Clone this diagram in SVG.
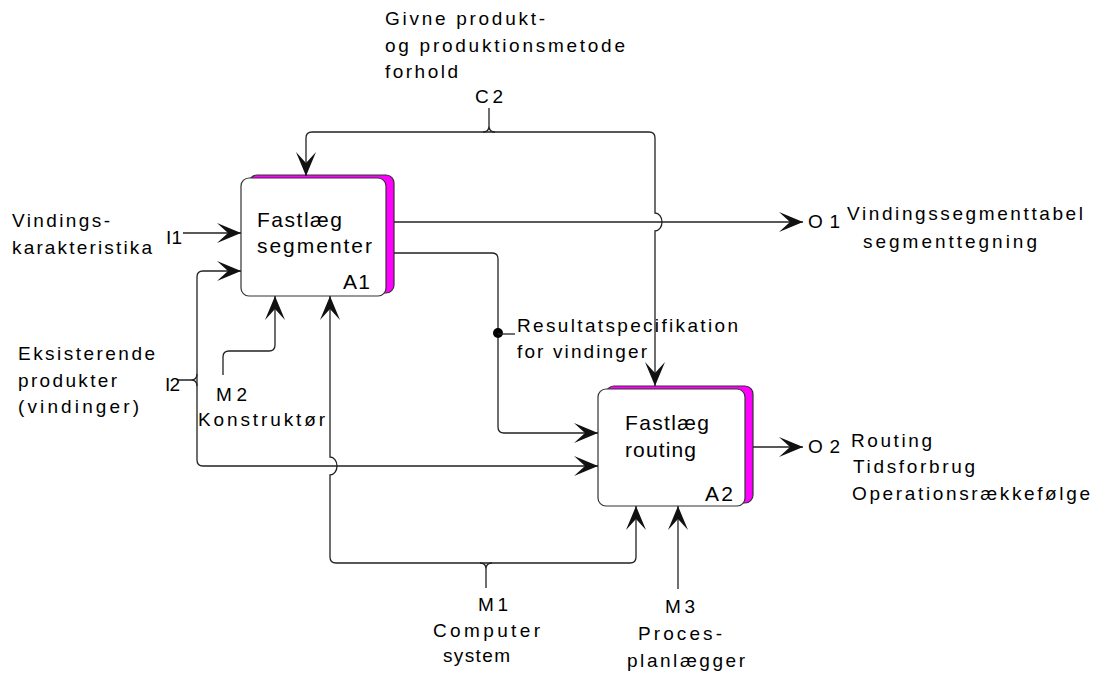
<svg xmlns="http://www.w3.org/2000/svg" width="1095" height="673" viewBox="0 0 1095 673">
<style>
  .ln{fill:none;stroke:#222;stroke-width:1.3}
  .t{font-family:"Liberation Sans",Arial,sans-serif;font-size:19px;fill:#000}
  .bt{font-family:"Liberation Sans",Arial,sans-serif;font-size:21px;fill:#000}
  .box{fill:#fff;stroke:#333;stroke-width:1.2}
  .sh{fill:#ff00ff;stroke:#333;stroke-width:1.2}
</style>
<defs>
  <marker id="ah" viewBox="0 0 24 20" refX="24" refY="10" markerWidth="24" markerHeight="20" markerUnits="userSpaceOnUse" orient="auto">
    <path d="M24,10 L0,0 L11,10 L0,20 Z" fill="#111"/>
  </marker>
</defs>
<rect width="1095" height="673" fill="#fff"/>

<g id="A1">
  <rect class="sh" x="249" y="175" width="145" height="118" rx="8"/>
  <rect class="box" x="241" y="178" width="145" height="118" rx="8"/>
  <text class="bt" x="257" y="227" textLength="85" lengthAdjust="spacing">Fastlæg</text>
  <text class="bt" x="257" y="253" textLength="115" lengthAdjust="spacing">segmenter</text>
  <text class="bt" x="343" y="289" textLength="27" lengthAdjust="spacing">A1</text>
</g>

<g id="A2">
  <rect class="sh" x="606" y="386" width="147" height="117" rx="8"/>
  <rect class="box" x="598" y="389" width="147" height="117" rx="8"/>
  <text class="bt" x="625" y="430" textLength="84" lengthAdjust="spacing">Fastlæg</text>
  <text class="bt" x="625" y="457" textLength="71" lengthAdjust="spacing">routing</text>
  <text class="bt" x="705" y="501" textLength="28" lengthAdjust="spacing">A2</text>
</g>

<g id="connectors">
  <path class="ln" d="M489,108 V126 Q489,132 483,132 M489,126 Q489,132 495,132"/>
  <path class="ln" d="M489,132 H312 Q306,132 306,138 V176" marker-end="url(#ah)"/>
  <path class="ln" d="M489,132 H649 Q655,132 655,138 V213 A7,9 0 0 1 655,231 V386" marker-end="url(#ah)"/>
  <path class="ln" d="M183,233 H241" marker-end="url(#ah)"/>
  <path class="ln" d="M178,380 H191 Q197,380 197,374 M191,380 Q197,380 197,386"/>
  <path class="ln" d="M197,380 V277 Q197,271 203,271 H241" marker-end="url(#ah)"/>
  <path class="ln" d="M197,380 V460 Q197,466 203,466 H598" marker-end="url(#ah)"/>
  <path class="ln" d="M394,253 H492 Q498,253 498,259 V427 Q498,433 504,433 H598" marker-end="url(#ah)"/>
  <circle cx="498" cy="333" r="5" fill="#000"/>
  <path class="ln" d="M498,334 H515"/>
  <path class="ln" d="M223,375 V357 Q223,351 229,351 H269 Q275,351 275,345 V296" marker-end="url(#ah)"/>
  <path class="ln" d="M486,588 V569 Q486,563 480,563 M486,569 Q486,563 492,563"/>
  <path class="ln" d="M486,563 H336 Q330,563 330,557 V475 A7,9 0 0 0 330,457 V296" marker-end="url(#ah)"/>
  <path class="ln" d="M486,563 H630 Q636,563 636,557 V506" marker-end="url(#ah)"/>
  <path class="ln" d="M678,589 V506" marker-end="url(#ah)"/>
  <path class="ln" d="M394,222 H803" marker-end="url(#ah)"/>
  <path class="ln" d="M753,447 H803" marker-end="url(#ah)"/>
</g>

<g id="labels">
  <text class="t" x="385" y="25" textLength="160" lengthAdjust="spacing">Givne produkt-</text>
  <text class="t" x="385" y="52" textLength="240" lengthAdjust="spacing">og produktionsmetode</text>
  <text class="t" x="385" y="78" textLength="73" lengthAdjust="spacing">forhold</text>
  <text class="t" x="475" y="103" textLength="28" lengthAdjust="spacing">C2</text>

  <text class="t" x="12" y="227" textLength="98" lengthAdjust="spacing">Vindings-</text>
  <text class="t" x="12" y="254" textLength="140" lengthAdjust="spacing">karakteristika</text>
  <text class="t" x="166" y="244" textLength="16" lengthAdjust="spacing">I1</text>

  <text class="t" x="18" y="360" textLength="137" lengthAdjust="spacing">Eksisterende</text>
  <text class="t" x="18" y="387" textLength="99" lengthAdjust="spacing">produkter</text>
  <text class="t" x="18" y="413" textLength="121" lengthAdjust="spacing">(vindinger)</text>
  <text class="t" x="165" y="391" textLength="15" lengthAdjust="spacing">I2</text>

  <text class="t" x="216" y="401" textLength="31" lengthAdjust="spacing">M2</text>
  <text class="t" x="198" y="426" textLength="127" lengthAdjust="spacing">Konstruktør</text>

  <text class="t" x="517" y="332" textLength="221" lengthAdjust="spacing">Resultatspecifikation</text>
  <text class="t" x="517" y="358" textLength="130" lengthAdjust="spacing">for vindinger</text>

  <text class="t" x="808" y="228" textLength="32" lengthAdjust="spacing">O1</text>
  <text class="t" x="847" y="220" textLength="236" lengthAdjust="spacing">Vindingssegmenttabel</text>
  <text class="t" x="863" y="248" textLength="174" lengthAdjust="spacing">segmenttegning</text>

  <text class="t" x="808" y="453" textLength="32" lengthAdjust="spacing">O2</text>
  <text class="t" x="851" y="447" textLength="81" lengthAdjust="spacing">Routing</text>
  <text class="t" x="853" y="473" textLength="122" lengthAdjust="spacing">Tidsforbrug</text>
  <text class="t" x="852" y="500" textLength="238" lengthAdjust="spacing">Operationsrækkefølge</text>

  <text class="t" x="478" y="611" textLength="30" lengthAdjust="spacing">M1</text>
  <text class="t" x="433" y="637" textLength="107" lengthAdjust="spacing">Computer</text>
  <text class="t" x="443" y="662" textLength="67" lengthAdjust="spacing">system</text>

  <text class="t" x="665" y="613" textLength="30" lengthAdjust="spacing">M3</text>
  <text class="t" x="638" y="640" textLength="84" lengthAdjust="spacing">Proces-</text>
  <text class="t" x="627" y="667" textLength="118" lengthAdjust="spacing">planlægger</text>
</g>
</svg>
